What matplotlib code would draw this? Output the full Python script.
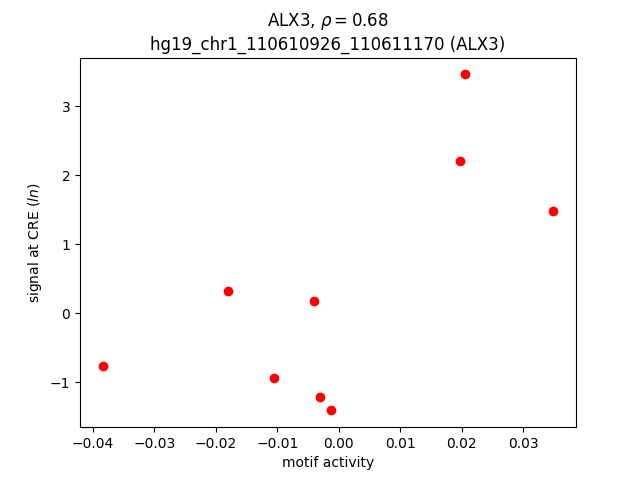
import matplotlib
matplotlib.use('Agg')
import matplotlib.pyplot as plt

# motif activity vs. CRE signal
motif_activity = [-0.0384, -0.0180, -0.0106, -0.0041, -0.0031, -0.0012,
                  0.0197, 0.0205, 0.0349]
cre_signal = [-0.77, 0.32, -0.94, 0.17, -1.21, -1.41,
              2.20, 3.46, 1.48]

motif = 'ALX3'
rho = 0.68
cre = 'hg19_chr1_110610926_110611170'


def main():
    fig, ax = plt.subplots(figsize=(6.4, 4.8), dpi=100)
    ax.scatter(motif_activity, cre_signal, c='red')
    ax.set_title(motif + r', $\rho = $' + '%.2f' % rho + '\n' + cre + ' (' + motif + ')')
    ax.set_xlabel('motif activity')
    ax.set_ylabel('signal at CRE ($ln$)')
    fig.savefig('out.png')


if __name__ == "__main__":
    main()
